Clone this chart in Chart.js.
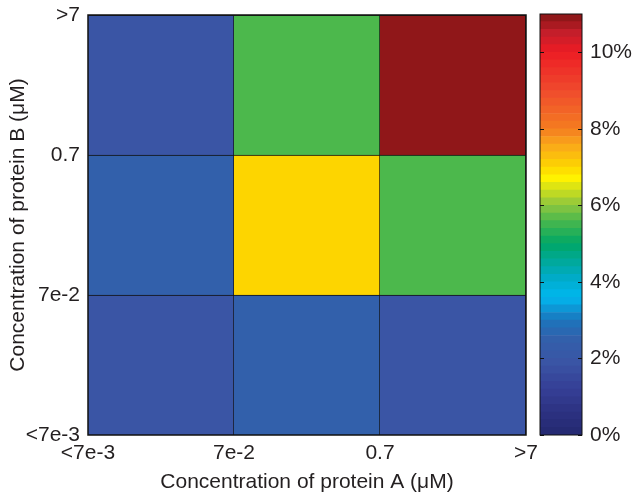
<!DOCTYPE html>
<html>
<head>
<meta charset="utf-8">
<script src="https://cdn.jsdelivr.net/npm/chart.js@4/dist/chart.umd.min.js"></script>
<style>
  body { margin: 0; background: #fff; }
  #wrap { position: relative; width: 632px; height: 498px; }
  #heat { position: absolute; left: 0; top: 0; }
  #bar { position: absolute; left: 530px; top: 0; }
</style>
</head>
<body>
<div id="wrap">
  <canvas id="heat" width="545" height="498"></canvas>
  <canvas id="bar" width="102" height="498"></canvas>
</div>
<script>
// protein A bins (columns) and protein B bins (rows, bottom to top)
const colNames = ['A < 7e-2', 'A 7e-2 to 0.7', 'A > 0.7']
const rowNames = ['B < 7e-2', 'B 7e-2 to 0.7', 'B > 0.7']

// percentages, one array per row
const rowBottom = [1.9, 2.5, 1.9]
const rowMiddle = [2.5, 7.0, 5.6]
const rowTop = [1.9, 5.6, 10.9]

const xTickLabels = ['<7e-3', '7e-2', '0.7', '>7']
const yTickLabels = ['<7e-3', '7e-2', '0.7', '>7']
const colorbarTicks = [0, 2, 4, 6, 8, 10]
const colorbarMax = 11
const colorbarStep = 0.2

// jet-like colour map as it appears in the colour bar
const cmapStops = [
    [0, '#242870'], [0.6, '#2c3282'], [1.2, '#353f96'], [1.9, '#3a55a5'],
    [2.5, '#3260ab'], [3.0, '#1b75bc'], [3.6, '#00b8ef'], [4.1, '#00abc8'],
    [4.5, '#00a99d'], [5.0, '#00a765'], [5.6, '#4cb84c'], [6.0, '#8dc63f'],
    [6.7, '#fff200'], [7.0, '#fdd500'], [7.6, '#f9a51b'], [8.0, '#f47c20'],
    [9.0, '#ef4a2d'], [10.0, '#ed1c24'], [10.5, '#c41e2a'], [10.9, '#901719'],
    [11, '#7b1416']
]

const hexToRgb = h => [1, 3, 5].map(i => parseInt(h.slice(i, i + 2), 16))
const cmap = v => {
    for (let i = 1; i < cmapStops.length; i++) {
        const [v1, c1] = cmapStops[i]
        const [v0, c0] = cmapStops[i - 1]
        if (v <= v1) {
            const t = (v - v0) / (v1 - v0)
            const a = hexToRgb(c0), b = hexToRgb(c1)
            return `rgb(${a.map((x, k) => Math.round(x + (b[k] - x) * t)).join(',')})`
        }
    }
    return cmapStops[cmapStops.length - 1][1]
}

const font = { family: '"Liberation Sans", Arial, sans-serif', size: 21 }
const ink = '#231f20'

const framePlugin = {
    id: 'frame',
    afterDatasetsDraw(chart, args, opts) {
        const { ctx, chartArea: a } = chart
        ctx.save()
        ctx.strokeStyle = '#111'
        ctx.lineWidth = opts.width || 1
        ctx.strokeRect(a.left, a.top, a.right - a.left, a.bottom - a.top)
        if (opts.ticks) {
            const y = chart.scales.y
            ctx.lineWidth = 1
            opts.ticks.forEach(v => {
                const p = Math.round(y.getPixelForValue(v)) + 0.5
                ctx.beginPath()
                ctx.moveTo(a.left, p); ctx.lineTo(a.left + 4, p)
                ctx.moveTo(a.right - 4, p); ctx.lineTo(a.right, p)
                ctx.stroke()
            })
        }
        ctx.restore()
    }
}

// keep tick labels from pushing the plot edges around
const noOverflow = s => { s.paddingTop = 0; s.paddingBottom = 0; s.paddingLeft = 0; s.paddingRight = 0 }

const rows = [rowBottom, rowMiddle, rowTop]

new Chart(document.getElementById('heat'), {
    type: 'bar',
    data: {
        labels: colNames,
        datasets: rows.map((vals, i) => ({
            label: rowNames[i],
            data: vals.map(() => 1),
            backgroundColor: vals.map(cmap),
            borderColor: '#111',
            borderWidth: { top: 1, right: 1 },
            categoryPercentage: 1,
            barPercentage: 1,
        }))
    },
    options: {
        responsive: false,
        animation: false,
        events: [],
        layout: { padding: { top: 15, right: 19, left: 0, bottom: 0 } },
        plugins: { legend: { display: false }, tooltip: { enabled: false }, frame: { width: 1.5 } },
        scales: {
            x: { stacked: true, display: false },
            x2: {
                type: 'linear', axis: 'x', position: 'bottom', min: 0, max: 3, offset: false,
                grid: { display: false, drawTicks: false, offset: false }, border: { display: false },
                ticks: { stepSize: 1, padding: 6, font, color: ink, maxRotation: 0,
                    callback: v => xTickLabels[v] },
                title: { display: true, text: 'Concentration of protein A (\u03bcM)', font, color: ink,
                    padding: { top: 4, bottom: 3 } },
                afterFit: s => { s.height = 63; noOverflow(s) }
            },
            y: {
                stacked: true, min: 0, max: 3,
                grid: { display: false, drawTicks: false }, border: { display: false },
                ticks: { stepSize: 1, padding: 8, font, color: ink,
                    callback: v => yTickLabels[v] },
                title: { display: true, text: 'Concentration of protein B (\u03bcM)', font, color: ink,
                    padding: { top: 6, bottom: 4 } },
                afterFit: s => { s.width = 88; noOverflow(s) }
            }
        }
    },
    plugins: [framePlugin]
})

// colour bar: stacked bands of the colour map
const bandCount = Math.round(colorbarMax / colorbarStep)
const bands = Array.from({ length: bandCount }, (_, i) => (i + 0.5) * colorbarStep)

new Chart(document.getElementById('bar'), {
    type: 'bar',
    data: {
        labels: ['scale'],
        datasets: bands.map(v => ({
            data: [colorbarStep],
            backgroundColor: cmap(v),
            borderWidth: 0,
            categoryPercentage: 1,
            barPercentage: 1,
        }))
    },
    options: {
        responsive: false,
        animation: false,
        events: [],
        layout: { padding: { top: 14, right: 0, left: 10, bottom: 63 } },
        plugins: { legend: { display: false }, tooltip: { enabled: false },
            frame: { width: 1, ticks: colorbarTicks } },
        scales: {
            x: { stacked: true, display: false },
            y: {
                stacked: true, position: 'right', min: 0, max: colorbarMax,
                grid: { display: false, drawTicks: false }, border: { display: false },
                afterBuildTicks: s => { s.ticks = colorbarTicks.map(v => ({ value: v })) },
                ticks: { padding: 8, font, color: ink, callback: v => v + '%' },
                afterFit: s => { s.width = 50; noOverflow(s) }
            }
        }
    },
    plugins: [framePlugin]
})
</script>
</body>
</html>
